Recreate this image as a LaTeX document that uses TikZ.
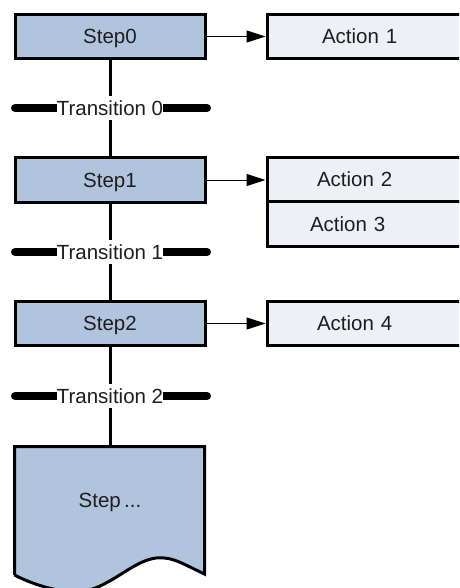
\documentclass[tikz,border=0pt]{standalone}
\usepackage{fontspec}
\setmainfont{Liberation Sans}
\usetikzlibrary{arrows.meta}

\definecolor{stepfill}{RGB}{176,196,222}
\definecolor{actfill}{RGB}{237,240,246}
\definecolor{labeltext}{RGB}{30,30,30}

\tikzset{
  stepbox/.style={draw, line width=3pt, fill=stepfill, text=labeltext,
    minimum width=190pt, minimum height=44pt, inner sep=0pt, text depth=0pt},
  actbox/.style={draw, line width=3pt, fill=actfill, text=labeltext,
    anchor=west, text width=110pt, align=left, inner xsep=50pt, inner ysep=0pt},
  transbar/.style={line width=8pt, line cap=round},
  translabel/.style={fill=white, text=labeltext, inner xsep=0pt, inner ysep=4pt},
  link/.style={line width=3pt},
  toaction/.style={line width=1pt, -{Triangle[length=19pt,width=12pt]}},
}

\begin{document}
\begin{tikzpicture}[x=1pt, y=-1pt, font=\fontsize{20.5pt}{24pt}\selectfont]
  \clip (0,0) rectangle (459,588);
  \fill[white] (0,0) rectangle (459,588);

  % Steps
  \node[stepbox] (step0) at (110,36.5) {Step0};
  \node[stepbox] (step1) at (110,180) {Step1};
  \node[stepbox] (step2) at (110,323.5) {Step2};

  % Actions, running off to the right
  \node[actbox, minimum height=44pt] (act1) at (265.5,36.5) {\hspace*{5pt}Action 1};
  \node[actbox, minimum height=43.5pt] (act2) at (265.5,179.25) {Action 2};
  \node[actbox, minimum height=45.5pt] (act3) at (265.5,224) {\hspace*{-7pt}Action 3};
  \node[actbox, minimum height=44pt] (act4) at (265.5,323.5) {Action 4};

  % Transitions
  \foreach \i/\y in {0/108,1/252,2/396} {
    \draw[transbar] (15,\y) -- (207,\y);
    \node[translabel] (trans\i) at (110,\y) {Transition \i};
  }

  % Last step, torn off at the bottom
  \fill[stepfill] (14.5,446.5) -- (204.5,446.5) -- (204.5,574)
    .. controls (185,565) and (172,556) .. (156,558)
    .. controls (130,561) and (105,594) .. (72,592)
    .. controls (50,590) and (30,583) .. (14.5,575) -- cycle;
  \draw[link] (14.5,575) -- (14.5,446.5) -- (204.5,446.5) -- (204.5,574)
    .. controls (185,565) and (172,556) .. (156,558)
    .. controls (130,561) and (105,594) .. (72,592)
    .. controls (50,590) and (30,583) .. (14.5,575);
  \node[text=labeltext] (stepn) at (110,502) {Step\,...};
  \coordinate (stepntop) at (110,446.5);

  % Sequence links
  \draw[link] (step0) -- (trans0) -- (step1) -- (trans1) -- (step2) -- (trans2) -- (stepntop);

  % Step to action arrows
  \draw[toaction] (step0.east) -- (act1.west);
  \draw[toaction] (step1.east) -- (step1.east -| act2.west);
  \draw[toaction] (step2.east) -- (act4.west);
\end{tikzpicture}
\end{document}
